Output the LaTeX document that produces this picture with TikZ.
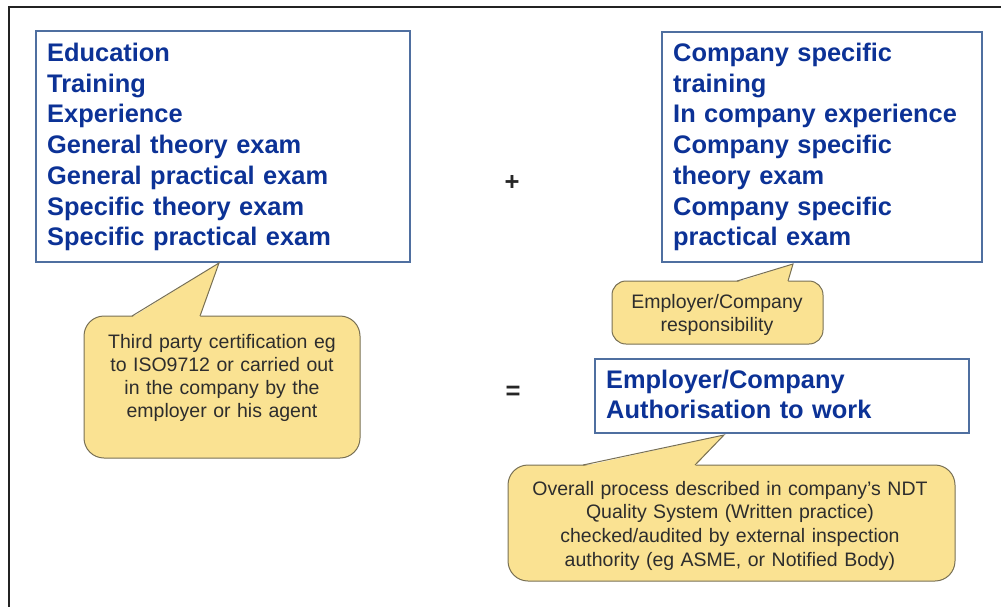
\documentclass[tikz,border=0pt]{standalone}
\usepackage{fontspec}
\setmainfont{Liberation Sans}
\usetikzlibrary{calc}
\definecolor{txtblue}{RGB}{12,50,150}
\definecolor{boxline}{RGB}{79,111,160}
\definecolor{callfill}{RGB}{250,226,146}
\definecolor{callline}{RGB}{120,112,84}
\definecolor{frameline}{RGB}{35,35,35}
\definecolor{calltxt}{RGB}{45,45,45}
\tikzset{
  bluebox/.style={draw=boxline, line width=1.2pt, fill=white, inner sep=0pt},
  bluetext/.style={text=txtblue, font=\bfseries\fontsize{25.4}{30.7}\selectfont, align=left, inner sep=0pt, anchor=base west},
  callbody/.style={draw=callline, fill=callfill, line width=1pt, rounded corners=20pt, inner sep=0pt},
  calltip/.style={fill=callfill, draw=none},
  calledge/.style={draw=callline, line width=1pt, line join=miter},
  calltext/.style={text=calltxt, font=\fontsize{19.5}{23}\selectfont, align=center, inner sep=0pt, anchor=base},
  optext/.style={text=black!85, font=\bfseries\fontsize{25.6}{30}\selectfont, inner sep=0pt},
  frame/.style={draw=frameline, line width=2.3pt}
}
\begin{document}
\begin{tikzpicture}[x=1pt,y=-1pt]
\useasboundingbox (0,0) rectangle (1001,606);
% outer frame (cropped)
\coordinate (fr1) at (1003,7);
\coordinate (fr2) at (9,7);
\coordinate (fr3) at (9,608);
\draw[frame] (fr1) -- (fr2) -- (fr3);

% left box
\node[bluebox, minimum width=374pt, minimum height=231pt] (b1) at (223,146.5) {};
\node[bluetext, text width=360pt] (t1) at (47,61.5) {Education\\Training\\Experience\\General theory exam\\General practical exam\\Specific theory exam\\Specific practical exam};

% right box
\node[bluebox, minimum width=320pt, minimum height=230pt] (b2) at (822,147) {};
\node[bluetext, text width=305pt] (t2) at (673,61.5) {Company specific\\training\\In company experience\\Company specific\\theory exam\\Company specific\\practical exam};

% operators
\node[optext] (plus) at (512,183) {+};
\node[optext] (eq) at (513,393) {=};

% result box
\node[bluebox, minimum width=374pt, minimum height=74pt] (b3) at (782,396) {};
\node[bluetext, text width=360pt] (t3) at (606,388) {Employer/Company\\Authorisation to work};

% callout 1
\node[callbody, minimum width=276pt, minimum height=142pt] (c1) at (222,387) {};
\coordinate (c1l) at (132,316);
\coordinate (c1t) at (219,263);
\coordinate (c1r) at (200,316);
\fill[calltip] ($(c1l)+(0,1.2)$) -- (c1t) -- ($(c1r)+(0,1.2)$) -- cycle;
\draw[calledge] (c1l) -- (c1t) -- (c1r);
\node[calltext, text width=270pt] (ct1) at (222,348) {Third party certification eg\\to ISO9712 or carried out\\in the company by the\\employer or his agent};

% callout 2
\node[callbody, minimum width=211pt, minimum height=63pt, rounded corners=14pt] (c2) at (717.5,312.5) {};
\coordinate (c2l) at (737,281);
\coordinate (c2t) at (793,264);
\coordinate (c2r) at (788,281);
\fill[calltip] ($(c2l)+(0,1.2)$) -- (c2t) -- ($(c2r)+(0,1.2)$) -- cycle;
\draw[calledge] (c2l) -- (c2t) -- (c2r);
\node[calltext, text width=205pt] (ct2) at (717,308) {Employer/Company\\responsibility};

% callout 3
\node[callbody, minimum width=447pt, minimum height=116pt] (c3) at (731.5,523) {};
\coordinate (c3l) at (583,465);
\coordinate (c3t) at (724,435);
\coordinate (c3r) at (695,465);
\fill[calltip] ($(c3l)+(0,1.2)$) -- (c3t) -- ($(c3r)+(0,1.2)$) -- cycle;
\draw[calledge] (c3l) -- (c3t) -- (c3r);
\node[calltext, text width=440pt, font=\fontsize{19.5}{23.7}\selectfont] (ct3) at (730,495) {Overall process described in company's NDT\\Quality System (Written practice)\\checked/audited by external inspection\\authority (eg ASME, or Notified Body)};
\end{tikzpicture}
\end{document}
